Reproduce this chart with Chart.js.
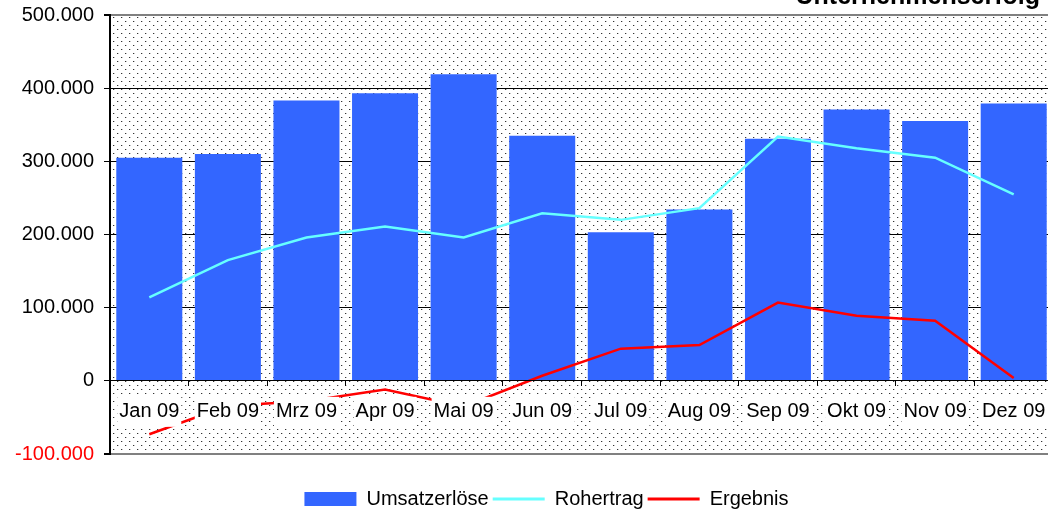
<!DOCTYPE html>
<html>
<head>
<meta charset="utf-8">
<script src="https://cdn.jsdelivr.net/npm/chart.js@4/dist/chart.umd.min.js"></script>
<style>
    html, body { margin: 0; padding: 0; background: #fff; overflow: hidden; }
    #wrap { width: 1048px; height: 514px; overflow: hidden; }
</style>
</head>
<body>
<div id="wrap"><canvas id="erfolgChart" width="1110" height="519"></canvas></div>
<script>
// Daten
const monate = ['Jan 09', 'Feb 09', 'Mrz 09', 'Apr 09', 'Mai 09', 'Jun 09', 'Jul 09', 'Aug 09', 'Sep 09', 'Okt 09', 'Nov 09', 'Dez 09'];
const umsatzerloese = [305000, 310000, 383000, 393000, 419000, 335000, 203000, 234000, 331000, 371000, 355000, 379000];
const rohertrag = [114000, 165000, 196000, 211000, 196000, 229000, 220000, 236000, 334000, 318000, 305000, 255000];
const ergebnis = [-73000, -34000, -28000, -12000, -35000, 7000, 44000, 49000, 107000, 89000, 82000, 4000];
const yMin = -100000;
const yMax = 500000;
const yStep = 100000;

const FONT = 'Arial, "Liberation Sans", sans-serif';

// gepunkteter Hintergrund der Zeichenfläche
const punktMuster = {
    id: 'punktMuster',
    beforeDraw(chart) {
        const { ctx, chartArea: a } = chart;
        const tile = document.createElement('canvas');
        tile.width = 8;
        tile.height = 8;
        const t = tile.getContext('2d');
        t.fillStyle = '#fff';
        t.fillRect(0, 0, 8, 8);
        t.fillStyle = '#c8c8c8';
        t.fillRect(2, 1, 1, 1);
        t.fillRect(6, 5, 1, 1);
        t.fillStyle = '#333';
        t.fillRect(1, 1, 1, 1);
        t.fillRect(5, 5, 1, 1);
        ctx.save();
        ctx.fillStyle = ctx.createPattern(tile, 'repeat');
        ctx.fillRect(a.left, a.top, a.right - a.left, a.bottom - a.top);
        ctx.restore();
    }
};

// Titel, oben abgeschnitten wie im Original
const titelOben = {
    id: 'titelOben',
    afterDraw(chart) {
        const ctx = chart.ctx;
        ctx.save();
        ctx.font = 'bold 25px ' + FONT;
        ctx.fillStyle = '#000';
        ctx.textAlign = 'right';
        ctx.textBaseline = 'alphabetic';
        ctx.fillText('Unternehmenserfolg', 1040, 4);
        ctx.restore();
    }
};

// Legende etwas nach rechts rücken (Original ist nicht ganz mittig)
const legendeVersatz = {
    id: 'legendeVersatz',
    afterLayout(chart) {
        if (chart.legend) {
            chart.legend.left += 20;
            chart.legend.right += 20;
        }
    }
};

const isRand = v => v === yMax || v === yMin;

new Chart(document.getElementById('erfolgChart'), {
    type: 'bar',
    data: {
        labels: monate,
        datasets: [
            {
                type: 'bar',
                label: 'Umsatzerlöse',
                data: umsatzerloese,
                backgroundColor: '#3366FF',
                borderWidth: 0,
                barPercentage: 0.84,
                categoryPercentage: 1,
                order: 3
            },
            {
                type: 'line',
                label: 'Rohertrag',
                data: rohertrag,
                borderColor: '#66FFFF',
                backgroundColor: '#66FFFF',
                borderWidth: 2.5,
                pointRadius: 0,
                tension: 0,
                fill: false,
                order: 2
            },
            {
                type: 'line',
                label: 'Ergebnis',
                data: ergebnis,
                borderColor: '#FF0000',
                backgroundColor: '#FF0000',
                borderWidth: 2.5,
                pointRadius: 0,
                tension: 0,
                fill: false,
                order: 1
            }
        ]
    },
    options: {
        responsive: false,
        animation: false,
        events: [],
        layout: { padding: { top: 15, right: 57, bottom: 0, left: 0 } },
        plugins: {
            tooltip: { enabled: false },
            title: { display: false },
            legend: {
                position: 'bottom',
                title: { display: true, text: ' ', font: { size: 10 }, padding: { top: 19, bottom: 0 } },
                labels: {
                    usePointStyle: true,
                    pointStyleWidth: 52,
                    boxHeight: 14,
                    padding: 4,
                    color: '#000',
                    font: { size: 20, family: FONT },
                    generateLabels: chart => chart.data.datasets.map((ds, i) => ({
                        text: ds.label,
                        datasetIndex: i,
                        hidden: false,
                        fillStyle: ds.backgroundColor,
                        strokeStyle: ds.type === 'bar' ? 'rgba(0,0,0,0)' : ds.borderColor,
                        lineWidth: ds.type === 'bar' ? 0 : 3,
                        pointStyle: ds.type === 'bar' ? 'rect' : 'line',
                        fontColor: '#000'
                    }))
                }
            }
        },
        scales: {
            x: {
                type: 'category',
                position: { y: 0 },
                offset: true,
                grid: {
                    drawOnChartArea: false,
                    drawTicks: true,
                    tickLength: 5,
                    tickColor: '#000',
                    offset: true
                },
                border: { display: true, color: '#000', width: 1, z: 1 },
                ticks: {
                    autoSkip: false,
                    maxRotation: 0,
                    color: '#000',
                    font: { size: 20, family: FONT },
                    padding: 14,
                    showLabelBackdrop: true,
                    backdropColor: '#fff',
                    backdropPadding: { top: 3, bottom: 3, left: 2, right: 2 },
                    z: 1
                }
            },
            y: {
                min: yMin,
                max: yMax,
                afterFit: scale => {
                    scale.width = 110;
                    scale.paddingTop = 0;
                    scale.paddingBottom = 0;
                },
                grid: {
                    color: c => isRand(c.tick.value) ? '#808080' : '#000',
                    lineWidth: c => isRand(c.tick.value) ? 2 : 1,
                    tickColor: '#000',
                    tickLength: 6
                },
                border: { display: true, color: '#000', width: 2 },
                ticks: {
                    stepSize: yStep,
                    padding: 10,
                    font: { size: 20, family: FONT },
                    color: c => c.tick.value < 0 ? '#FF0000' : '#000',
                    callback: v => v.toLocaleString('de-DE')
                }
            }
        }
    },
    plugins: [punktMuster, titelOben, legendeVersatz]
});
</script>
</body>
</html>
